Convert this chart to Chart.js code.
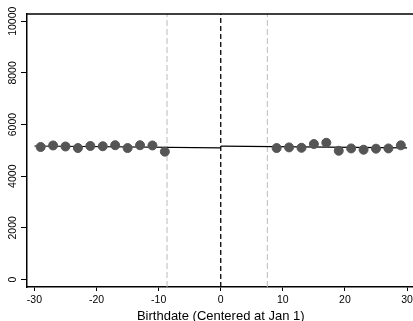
<!DOCTYPE html>
<html>
<head>
<meta charset="utf-8">
<script src="https://cdn.jsdelivr.net/npm/chart.js@4/dist/chart.umd.min.js"></script>
<style>
  html, body { margin: 0; padding: 0; background: #fff; overflow: hidden; }
</style>
</head>
<body>
<canvas id="myChart" width="420" height="324"></canvas>
<script>
// binned means, left and right of the cutoff
var leftX = [-29, -27, -25, -23, -21, -19, -17, -15, -13, -11, -9];
var leftY = [5130, 5190, 5150, 5090, 5170, 5160, 5200, 5090, 5200, 5190, 4950];
var rightX = [9, 11, 13, 15, 17, 19, 21, 23, 25, 27, 29];
var rightY = [5090, 5115, 5100, 5245, 5295, 4985, 5075, 5025, 5065, 5075, 5195];

// linear fits (end points)
var leftFitX = [-30, 0];
var leftFitY = [5170, 5095];
var rightFitX = [0, 30];
var rightFitY = [5165, 5100];

// reference lines
var cutoff = 0;
var bandLines = [-8.65, 7.5];

var xTicks = [-30, -20, -10, 0, 10, 20, 30];
var yTicks = [0, 2000, 4000, 6000, 8000, 10000];
var xMin = -31.2, xMax = 31.2;
var yMin = -290, yMax = 10280;

function pts(xs, ys) {
  return xs.map(function (x, i) { return { x: x, y: ys[i] }; });
}
function vline(x) {
  return [{ x: x, y: yMin }, { x: x, y: yMax }];
}

var FONT = "'Liberation Sans', Arial, sans-serif";

// top border + rotated y tick labels
var framePlugin = {
  id: "frame",
  afterDraw: function (chart) {
    var ctx = chart.ctx;
    var a = chart.chartArea;
    ctx.save();
    ctx.strokeStyle = "#000";
    ctx.lineWidth = 1.5;
    ctx.beginPath();
    ctx.moveTo(a.left, a.top);
    ctx.lineTo(a.right + 10, a.top);
    ctx.stroke();

    var ys = chart.scales.y;
    ctx.fillStyle = "#000";
    ctx.font = "10.5px " + FONT;
    ctx.textAlign = "center";
    ctx.textBaseline = "middle";
    yTicks.forEach(function (v) {
      var py = ys.getPixelForValue(v);
      ctx.save();
      ctx.translate(13, py);
      ctx.rotate(-Math.PI / 2);
      ctx.fillText(String(v), 0, 0);
      ctx.restore();
    });
    ctx.restore();
  },
};

var ctx = document.getElementById("myChart").getContext("2d");
var chart = new Chart(ctx, {
  type: "scatter",
  data: {
    datasets: [
      {
        data: pts(leftX, leftY),
        backgroundColor: "#555555",
        borderColor: "#555555",
        pointRadius: 4.5,
        order: 0,
      },
      {
        data: pts(rightX, rightY),
        backgroundColor: "#555555",
        borderColor: "#555555",
        pointRadius: 4.5,
        order: 0,
      },
      {
        data: pts(leftFitX, leftFitY),
        showLine: true,
        borderColor: "#000",
        borderWidth: 1.2,
        pointRadius: 0,
        order: 1,
      },
      {
        data: pts(rightFitX, rightFitY),
        showLine: true,
        borderColor: "#000",
        borderWidth: 1.2,
        pointRadius: 0,
        order: 1,
      },
      {
        data: vline(cutoff),
        showLine: true,
        borderColor: "#000",
        borderWidth: 1.3,
        borderDash: [5, 3],
        pointRadius: 0,
        order: 2,
      },
      {
        data: vline(bandLines[0]),
        showLine: true,
        borderColor: "#bbbbbb",
        borderWidth: 1,
        borderDash: [6, 3],
        pointRadius: 0,
        order: 2,
      },
      {
        data: vline(bandLines[1]),
        showLine: true,
        borderColor: "#bbbbbb",
        borderWidth: 1,
        borderDash: [6, 3],
        pointRadius: 0,
        order: 2,
      },
    ],
  },
  options: {
    responsive: false,
    animation: false,
    layout: { padding: { top: 14, right: 0, left: 0, bottom: 0 } },
    plugins: {
      legend: { display: false },
      tooltip: { enabled: false },
    },
    scales: {
      x: {
        type: "linear",
        position: "bottom",
        min: xMin,
        max: xMax,
        afterBuildTicks: function (s) {
          s.ticks = xTicks.map(function (v) { return { value: v }; });
        },
        afterFit: function (s) {
          s.height = 37;
        },
        ticks: {
          color: "#000",
          font: { family: FONT, size: 10.5 },
          padding: 3,
          maxRotation: 0,
        },
        grid: {
          drawOnChartArea: false,
          drawTicks: true,
          tickLength: 4,
          color: "#000",
        },
        border: { display: true, color: "#000", width: 1.5 },
        title: {
          display: true,
          text: "Birthdate (Centered at Jan 1)",
          color: "#000",
          font: { family: FONT, size: 13 },
          padding: { top: 2, bottom: 0 },
        },
      },
      y: {
        type: "linear",
        position: "left",
        min: yMin,
        max: yMax,
        afterBuildTicks: function (s) {
          s.ticks = yTicks.map(function (v) { return { value: v }; });
        },
        afterFit: function (s) {
          s.width = 27;
        },
        ticks: { display: false },
        grid: {
          drawOnChartArea: false,
          drawTicks: true,
          tickLength: 6,
          color: "#000",
        },
        border: { display: true, color: "#000", width: 1.5 },
      },
    },
  },
  plugins: [framePlugin],
});
</script>
</body>
</html>
